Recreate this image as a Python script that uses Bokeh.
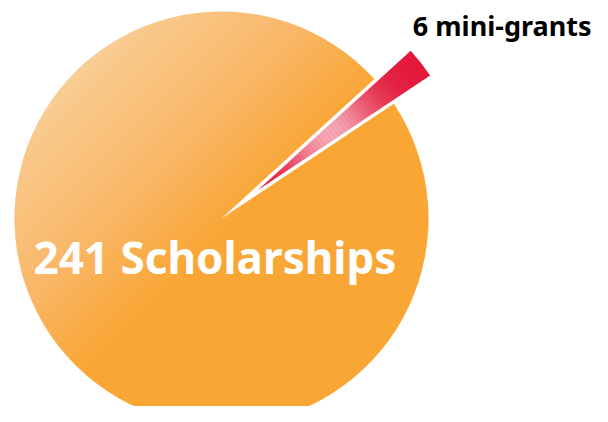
import numpy as np
from bokeh.plotting import figure
from bokeh.models import Range1d
from bokeh.core.properties import value
from bokeh.embed import file_html
from bokeh.resources import INLINE

# ---- data ----
categories = ["Scholarships", "Mini-grants"]
counts = [241, 6]
labels = ["241 Scholarships", "6 mini-grants"]

# ---- layout (pixel-like data units, y up) ----
W, H = 592, 406
cx, cy = 221, 204          # pie centre
R = 207                    # pie radius
mid_deg = 38.0             # direction of the small slice
explode = 46

total = float(sum(counts))
span_small = counts[1] / total * 2 * np.pi
mid = np.deg2rad(mid_deg)
small_start = mid - span_small / 2
small_end = mid + span_small / 2

p = figure(width=W, height=H, output_backend="svg", toolbar_location=None,
           x_range=Range1d(0, W), y_range=Range1d(422 - H, 422),
           min_border=0)
p.axis.visible = False
p.grid.visible = False
p.outline_line_color = None
p.background_fill_color = "white"
p.border_fill_color = "white"

orange = "#F9A634"
red = "#E3183A"

# big slice
p.wedge(x=cx, y=cy, radius=R, start_angle=small_end, end_angle=small_start + 2 * np.pi,
        fill_color=orange, line_color=None)

# light gradient toward top-left (stack of translucent white half-planes)
u = np.array([-np.sqrt(0.5), np.sqrt(0.5)])
n = 40
a = 1 - 0.45 ** (1 / n)
offs = np.linspace(-10, 210, n)
L = 600
xs = cx + (offs + L / 2) * u[0]
ys = cy + (offs + L / 2) * u[1]
p.rect(x=xs, y=ys, width=L, height=900, angle=135, angle_units="deg",
       fill_color="white", fill_alpha=a, line_color=None)

# small exploded slice
sx = cx + explode * np.cos(mid)
sy = cy + explode * np.sin(mid)
p.wedge(x=sx, y=sy, radius=R, start_angle=small_start, end_angle=small_end,
        fill_color=red, line_color=None)
# pinkish highlight along the slice
rings = np.linspace(0, R, 52)
inner = rings[:-1]
outer = rings[1:]
midr = (inner + outer) / 2
alpha = np.clip(0.62 * np.exp(-((midr - 92) / 52) ** 2), 0, 1)
p.annular_wedge(x=sx, y=sy, inner_radius=inner, outer_radius=outer,
                start_angle=small_start, end_angle=small_end,
                fill_color="white", fill_alpha=alpha, line_color=None)

# labels
p.text(x=[33], y=[166], text=[labels[0]], text_color="white",
       text_font=value("Noto Sans"), text_font_style="bold",
       text_font_size="44px", text_baseline="alphabetic", text_align="left")
p.text(x=[591], y=[397], text=[labels[1]], text_color="black",
       text_font=value("Noto Sans"), text_font_style="bold",
       text_font_size="27px", text_baseline="alphabetic", text_align="right")

open("out.html", "w").write(file_html(p, INLINE))
